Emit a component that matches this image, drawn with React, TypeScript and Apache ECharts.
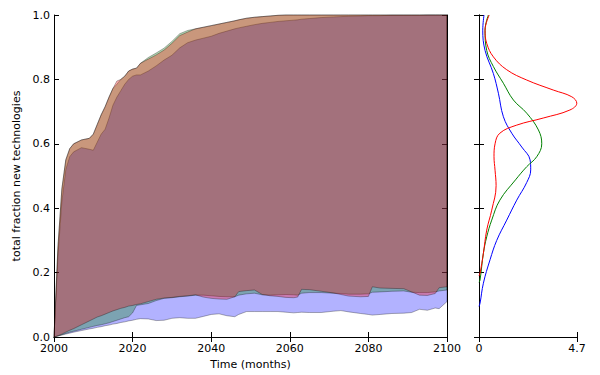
import React, { useEffect, useRef } from "react";
import * as echarts from "echarts";

// ---- data ----
const years = [2000, 2001, 2002, 2003, 2004, 2005, 2007, 2009, 2010, 2011, 2012, 2013, 2014, 2015, 2016, 2017, 2018, 2019, 2020, 2021, 2022, 2024, 2026, 2028, 2030, 2032, 2034, 2036, 2038, 2040, 2042, 2044, 2046, 2047, 2049, 2051, 2053, 2055, 2057, 2059, 2061, 2062, 2063, 2065, 2068, 2071, 2073, 2075, 2078, 2080, 2081, 2083, 2086, 2089, 2091, 2093, 2095, 2097, 2098, 2100];

const blueLow = [0, 0.003, 0.006, 0.009, 0.012, 0.015, 0.02, 0.025, 0.027, 0.03, 0.032, 0.035, 0.037, 0.04, 0.042, 0.045, 0.047, 0.05, 0.052, 0.055, 0.057, 0.056, 0.051, 0.052, 0.058, 0.06, 0.058, 0.058, 0.064, 0.07, 0.072, 0.066, 0.063, 0.07, 0.079, 0.079, 0.079, 0.079, 0.079, 0.077, 0.075, 0.076, 0.077, 0.076, 0.076, 0.08, 0.082, 0.078, 0.073, 0.07, 0.068, 0.07, 0.073, 0.074, 0.076, 0.086, 0.083, 0.09, 0.088, 0.11];
const blueHigh = [0, 0.25, 0.42, 0.52, 0.56, 0.575, 0.588, 0.583, 0.58, 0.605, 0.63, 0.645, 0.68, 0.72, 0.745, 0.765, 0.785, 0.8, 0.81, 0.814, 0.814, 0.826, 0.842, 0.86, 0.875, 0.898, 0.914, 0.922, 0.928, 0.934, 0.943, 0.95, 0.957, 0.96, 0.965, 0.97, 0.974, 0.977, 0.98, 0.982, 0.984, 0.985, 0.987, 0.989, 0.992, 0.994, 0.995, 0.996, 0.997, 0.998, 0.998, 0.998, 0.999, 0.999, 0.999, 0.999, 1, 1, 1, 1];

const greenLow = [0, 0.003, 0.007, 0.011, 0.015, 0.018, 0.024, 0.03, 0.033, 0.036, 0.038, 0.041, 0.044, 0.048, 0.052, 0.056, 0.06, 0.063, 0.075, 0.098, 0.1, 0.104, 0.113, 0.12, 0.122, 0.125, 0.127, 0.13, 0.13, 0.128, 0.126, 0.125, 0.125, 0.13, 0.134, 0.136, 0.131, 0.13, 0.131, 0.132, 0.131, 0.13, 0.136, 0.138, 0.138, 0.136, 0.135, 0.133, 0.133, 0.134, 0.139, 0.14, 0.142, 0.143, 0.139, 0.138, 0.138, 0.14, 0.143, 0.146];
const greenHigh = [0, 0.28, 0.46, 0.55, 0.585, 0.6, 0.612, 0.617, 0.63, 0.66, 0.69, 0.715, 0.745, 0.772, 0.785, 0.8, 0.81, 0.826, 0.832, 0.835, 0.85, 0.868, 0.882, 0.897, 0.918, 0.942, 0.952, 0.957, 0.962, 0.967, 0.972, 0.977, 0.982, 0.985, 0.99, 0.993, 0.995, 0.997, 0.999, 1, 1, 1, 1, 1, 1, 1, 1, 1, 1, 1, 1, 1, 1, 1, 1, 1, 1, 1, 1, 1];

const redLow = [0, 0.004, 0.009, 0.015, 0.021, 0.026, 0.038, 0.05, 0.056, 0.062, 0.066, 0.071, 0.076, 0.081, 0.085, 0.089, 0.092, 0.096, 0.098, 0.101, 0.103, 0.11, 0.117, 0.121, 0.123, 0.126, 0.128, 0.131, 0.124, 0.12, 0.118, 0.117, 0.125, 0.141, 0.144, 0.146, 0.132, 0.128, 0.126, 0.123, 0.122, 0.124, 0.148, 0.147, 0.142, 0.137, 0.132, 0.127, 0.125, 0.126, 0.156, 0.152, 0.151, 0.15, 0.14, 0.13, 0.129, 0.135, 0.153, 0.156];
const redHigh = [0, 0.28, 0.46, 0.55, 0.585, 0.6, 0.612, 0.617, 0.63, 0.66, 0.69, 0.715, 0.745, 0.772, 0.795, 0.8, 0.81, 0.826, 0.832, 0.835, 0.85, 0.863, 0.876, 0.891, 0.912, 0.936, 0.947, 0.957, 0.962, 0.967, 0.972, 0.977, 0.982, 0.985, 0.99, 0.993, 0.995, 0.997, 0.999, 1, 1, 1, 1, 1, 1, 1, 1, 1, 1, 1, 1, 1, 1, 1, 1, 1, 1, 1, 1, 1];

// right panel: [density, fraction]
const redDensity = [[0.49, 1.0], [0.29, 0.953], [0.37, 0.912], [0.69, 0.87], [1.33, 0.83], [2.29, 0.798], [3.56, 0.767], [4.45, 0.746], [4.69, 0.726], [4.36, 0.705], [3.08, 0.68], [1.81, 0.658], [1.0, 0.633], [0.77, 0.6], [0.72, 0.56], [0.77, 0.518], [0.82, 0.47], [0.61, 0.394], [0.37, 0.332], [0.21, 0.26], [0.05, 0.198], [0, 0.19]];
const greenDensity = [[0.45, 1.0], [0.29, 0.953], [0.37, 0.89], [0.69, 0.84], [1.17, 0.788], [1.65, 0.736], [2.29, 0.695], [2.85, 0.643], [3.01, 0.6], [2.77, 0.56], [2.29, 0.529], [1.75, 0.488], [1.0, 0.425], [0.61, 0.363], [0.37, 0.311], [0.21, 0.26], [0.05, 0.177], [0, 0.17]];
const blueDensity = [[0.24, 1.0], [0.18, 0.953], [0.29, 0.89], [0.69, 0.818], [0.93, 0.757], [1.17, 0.684], [1.57, 0.633], [2.05, 0.59], [2.45, 0.55], [2.48, 0.519], [2.29, 0.48], [1.81, 0.425], [1.33, 0.363], [0.85, 0.3], [0.53, 0.24], [0.21, 0.167], [0.05, 0.105], [0, 0.095]];

const xTicks = { min: 2000, max: 2100, interval: 20 };
const densityMax = 4.7;

const FONT = "DejaVu Sans";
const FS = 11;

function bandSeries(name: string, low: number[], high: number[], fill: string) {
  return {
    type: "custom",
    name,
    xAxisIndex: 0,
    yAxisIndex: 0,
    data: [[years[0], low[0]]],
    renderItem: (_params: any, api: any) => {
      const pts: number[][] = [];
      for (let i = 0; i < years.length; i++) pts.push(api.coord([years[i], high[i]]));
      for (let i = years.length - 1; i >= 0; i--) pts.push(api.coord([years[i], low[i]]));
      return {
        type: "polygon",
        shape: { points: pts },
        style: { fill, stroke: "rgba(0,0,0,0.3)", lineWidth: 1 },
      };
    },
  };
}

function frameAxis(extra: any) {
  return {
    type: "value",
    axisLine: { show: true, lineStyle: { color: "#000", width: 1 } },
    axisTick: { show: true, inside: true, length: 5, lineStyle: { color: "#000" } },
    splitLine: { show: false },
    axisLabel: { show: false },
    ...extra,
  };
}

const label = { show: true, color: "#000", fontSize: FS, fontFamily: FONT };

export default function App() {
  const ref = useRef<HTMLDivElement>(null);
  useEffect(() => {
    if (!ref.current) return;
    const chart = echarts.init(ref.current, null, { renderer: "svg" });
    chart.setOption({
      animation: false,
      backgroundColor: "#fff",
      textStyle: { fontFamily: FONT },
      grid: [
        { left: 54, top: 15, width: 393, height: 322 },
        { left: 479, top: 15, width: 98, height: 322 },
      ],
      xAxis: [
        frameAxis({
          gridIndex: 0, position: "bottom", ...xTicks,
          axisLabel: { ...label, margin: 6, formatter: (v: number) => String(v) },
          name: "Time (months)", nameLocation: "middle", nameGap: 20,
          nameTextStyle: { color: "#000", fontSize: FS, fontFamily: FONT },
        }),
        frameAxis({ gridIndex: 0, position: "top", ...xTicks }),
        frameAxis({
          gridIndex: 1, position: "bottom", min: 0, max: densityMax, interval: densityMax,
          axisLabel: { ...label, margin: 6, showMaxLabel: true, formatter: (v: number) => (v === 0 ? "0" : String(densityMax)) },
        }),
        frameAxis({ gridIndex: 1, position: "top", min: 0, max: densityMax, interval: densityMax }),
      ],
      yAxis: [
        frameAxis({
          gridIndex: 0, position: "left", min: 0, max: 1, interval: 0.2,
          axisLabel: { ...label, margin: 4, formatter: (v: number) => v.toFixed(1) },
          name: "total fraction new technologies", nameLocation: "middle", nameGap: 29,
          nameTextStyle: { color: "#000", fontSize: FS, fontFamily: FONT },
        }),
        frameAxis({ gridIndex: 0, position: "right", min: 0, max: 1, interval: 0.2 }),
        frameAxis({ gridIndex: 1, position: "left", min: 0, max: 1, interval: 0.2 }),
        frameAxis({ gridIndex: 1, position: "right", min: 0, max: 1, interval: 0.2 }),
      ],
      series: [
        bandSeries("blue", blueLow, blueHigh, "rgba(0,0,255,0.3)"),
        bandSeries("green", greenLow, greenHigh, "rgba(0,128,0,0.3)"),
        bandSeries("red", redLow, redHigh, "rgba(255,0,0,0.3)"),
        { type: "line", xAxisIndex: 2, yAxisIndex: 2, data: blueDensity, smooth: 0.4, showSymbol: false, lineStyle: { color: "#0000ff", width: 1 } },
        { type: "line", xAxisIndex: 2, yAxisIndex: 2, data: greenDensity, smooth: 0.4, showSymbol: false, lineStyle: { color: "#008000", width: 1 } },
        { type: "line", xAxisIndex: 2, yAxisIndex: 2, data: redDensity, smooth: 0.4, showSymbol: false, lineStyle: { color: "#ff0000", width: 1 } },
      ],
    });
    return () => chart.dispose();
  }, []);
  return <div ref={ref} style={{ position: "fixed", left: 0, top: 0, width: 600, height: 375 }} />;
}
